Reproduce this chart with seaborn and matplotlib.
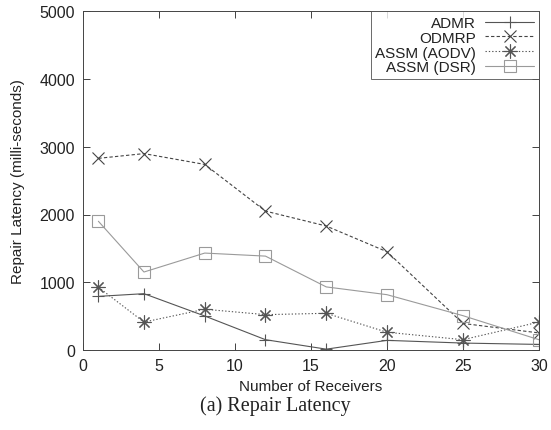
import numpy as np
import pandas as pd
import matplotlib
matplotlib.use("Agg")
import matplotlib.pyplot as plt
import seaborn as sns

receivers = [1, 4, 8, 12, 16, 20, 25, 30]
admr = [790, 830, 500, 150, 10, 140, 100, 80]
odmrp = [2830, 2900, 2740, 2050, 1830, 1450, 390, 250]
assm_aodv = [925, 410, 600, 520, 540, 260, 150, 410]
assm_dsr = [1900, 1150, 1430, 1385, 930, 815, 505, 150]

series = ["ADMR", "ODMRP", "ASSM (AODV)", "ASSM (DSR)"]
values = [admr, odmrp, assm_aodv, assm_dsr]

df = pd.DataFrame({
    "receivers": receivers * len(series),
    "latency": np.concatenate(values),
    "protocol": np.repeat(series, len(receivers)),
})

sns.set_style("ticks")
plt.rcParams['font.family'] = ['Liberation Sans', 'DejaVu Sans']

fig = plt.figure(figsize=(5.51, 4.31), dpi=100)
ax = fig.add_axes([0.151, 0.186, 0.827, 0.785])

styles = {
    "ADMR": dict(color="#555555", ls="-", marker="+", ms=9),
    "ODMRP": dict(color="#444444", ls=(0, (3, 2)), marker="x", ms=8),
    "ASSM (AODV)": dict(color="#555555", ls=(0, (1.2, 1.8)), marker=(8, 2, 0), ms=10),
    "ASSM (DSR)": dict(color="#9a9a9a", ls="-", marker="s", ms=9),
}

for name in series:
    st = styles[name]
    sub = df[df.protocol == name]
    sns.lineplot(data=sub, x="receivers", y="latency", ax=ax, label=name,
                 color=st["color"], linestyle=st["ls"], linewidth=0.8,
                 marker=st["marker"], markersize=st["ms"],
                 markerfacecolor="none", markeredgecolor=st["color"],
                 markeredgewidth=0.8)

ax.set_xlim(0, 30)
ax.set_ylim(0, 5000)
ax.set_xticks(range(0, 31, 5))
ax.set_yticks(range(0, 5001, 1000))
ax.tick_params(direction="in", top=True, right=True, length=5, width=0.6,
               labelsize=11.5, colors="#222222", pad=6)
for sp in ax.spines.values():
    sp.set_linewidth(0.7)
    sp.set_color("#444444")
ax.set_xlabel("Number of Receivers", fontsize=11, color="#222222", labelpad=4)
ax.set_ylabel("Repair Latency (milli-seconds)", fontsize=11, color="#222222", labelpad=10)

leg = ax.legend(loc="upper right", markerfirst=False, frameon=True, fancybox=False,
                borderaxespad=0, fontsize=11, handlelength=3.2, handletextpad=0.6,
                labelspacing=0.05, borderpad=0.3)
leg.get_frame().set_edgecolor("#444444")
leg.get_frame().set_linewidth(0.7)
for t in leg.get_texts():
    t.set_color("#222222")
# right-align the labels against their handles
for col in leg._legend_box._children[-1]._children:
    col.align = "right"

fig.text(0.5, 0.058, "(a) Repair Latency", ha="center", va="center",
         fontsize=14.5, family=["Liberation Serif", "DejaVu Serif"], color="#222222")

fig.savefig("out.png", dpi=100)
